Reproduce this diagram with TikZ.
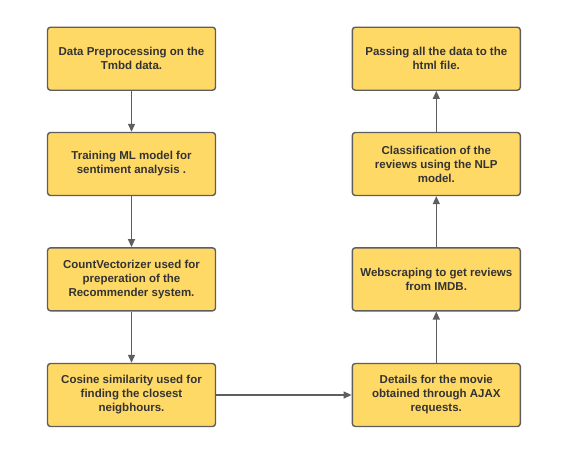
\documentclass[tikz,border=0pt]{standalone}
\usepackage{fontspec}
\setmainfont{Liberation Sans}
\usetikzlibrary{arrows.meta}
\definecolor{boxfill}{HTML}{FFD966}
\definecolor{boxline}{HTML}{5E5E5E}
\definecolor{txt}{HTML}{333333}
\tikzset{
  stepbox/.style={draw=boxline, fill=boxfill, line width=1.4pt, rounded corners=3pt,
    minimum width=168pt, minimum height=63pt, inner sep=0pt, align=center,
    text=txt, font=\fontsize{11.5}{14}\selectfont\bfseries},
  flow/.style={draw=boxline, line width=1.3pt, -{Triangle[length=8pt,width=7pt]}}
}
\begin{document}
\begin{tikzpicture}[x=1pt,y=-1pt]
\useasboundingbox[fill=white] (0,0) rectangle (564,466);
\node[stepbox] (a) at (131.5,58.7) {Data Preprocessing on the\\Tmbd data.};
\node[stepbox] (b) at (131.5,164) {Training ML model for\\sentiment analysis .};
\node[stepbox] (c) at (131.5,279.3) {CountVectorizer used for\\preperation of the\\Recommender system.};
\node[stepbox] (d) at (131.5,395) {Cosine similarity used for\\finding the closest\\neigbhours.};
\node[stepbox] (e) at (436.3,395) {Details for the movie\\obtained through AJAX\\requests.};
\node[stepbox] (f) at (436.3,279.3) {Webscraping to get reviews\\from IMDB.};
\node[stepbox] (g) at (436.3,164) {Classification of the\\reviews using the NLP\\model.};
\node[stepbox] (h) at (436.3,58.7) {Passing all the data to the\\html file.};
\draw[flow] (a) -- (b);
\draw[flow] (b) -- (c);
\draw[flow] (c) -- (d);
\draw[flow] (d) -- (e);
\draw[flow] (e) -- (f);
\draw[flow] (f) -- (g);
\draw[flow] (g) -- (h);
\end{tikzpicture}
\end{document}
